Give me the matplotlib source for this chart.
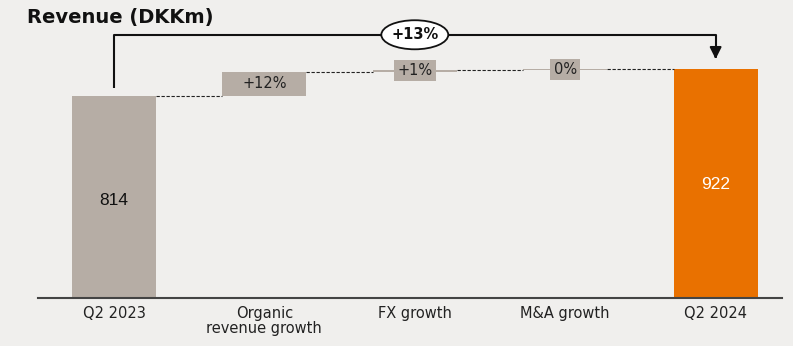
import numpy as np
import matplotlib.pyplot as plt
from matplotlib.patches import Ellipse

# Revenue bridge, DKKm
categories = ['Q2 2023', 'Organic\nrevenue growth', 'FX growth', 'M&A growth', 'Q2 2024']
start_value = 814
steps = [98, 7, 3]          # organic, FX, M&A contributions
end_value = start_value + sum(steps)

bg = '#f0efed'
grey = '#b6ada5'
orange = '#e97100'

fig = plt.figure(figsize=(7.93, 3.46), dpi=100, facecolor=bg)
ax = fig.add_axes([0.0479, 0.1387, 0.938, 0.8613], facecolor=bg)
ax.set_xlim(-0.505, 4.44)
ax.set_ylim(0, 1200)

w = 0.558
x = np.arange(len(categories))

# totals
ax.bar(x[0], start_value, w, color=grey)
ax.bar(x[4], end_value, w, color=orange)
ax.text(x[0], start_value / 2 - 15, str(start_value), ha='center', va='center', fontsize=12.5,
        family='Liberation Sans', color='#111')
ax.text(x[4], end_value / 2 - 5, str(end_value), ha='center', va='center', fontsize=12.5,
        family='Liberation Sans', color='white')

# floating steps
level = start_value
for i, s in enumerate(steps):
    xi = x[i + 1]
    ax.bar(xi, s, w, bottom=level, color=grey)
    # dashed connector from previous bar
    ax.plot([xi - 1 + w / 2, xi - w / 2], [level, level], color='#222', lw=0.8, ls=(0, (3, 1.5)))
    pct = '{:+.0f}%'.format(100 * s / start_value)
    if pct == '+0%':
        pct = '0%'
    if s > 30:
        ax.text(xi, level + s / 2, pct, ha='center', va='center', fontsize=10.5, color='#222')
    else:
        ax.text(xi, level + s / 2, pct, ha='center', va='center', fontsize=10.5, color='#222',
                bbox=dict(boxstyle='square,pad=0.22', fc=grey, ec='none'))
    level += s
ax.plot([x[3] + w / 2, x[4] - w / 2], [level, level], color='#222', lw=0.8, ls=(0, (3, 1.5)))

# overall growth bracket
top = 1060
ax.plot([x[0], x[0], x[4], x[4]], [846, top, top, 985], color='#111', lw=1.5, solid_capstyle='butt')
ax.annotate('', xy=(x[4], 951), xytext=(x[4], 990),
            arrowprops=dict(arrowstyle='-|>,head_width=0.35,head_length=0.7', color='#111', lw=1.5))
ax.add_patch(Ellipse((x[2], top), 0.445, 117, fc='white', ec='#111', lw=1.3, zorder=3))
total_pct = '{:+.0f}%'.format(100 * (end_value - start_value) / start_value)
ax.text(x[2], top, total_pct, ha='center', va='center', fontsize=10.5, fontweight='bold', color='#111', zorder=4)

ax.set_xticks(x)
ax.set_xticklabels(categories, fontsize=10.5, color='#222', linespacing=1.0)
ax.tick_params(axis='x', length=0, pad=6)
ax.set_yticks([])
for side in ['left', 'right', 'top']:
    ax.spines[side].set_visible(False)
ax.spines['bottom'].set_color('#444')
ax.spines['bottom'].set_linewidth(1.5)

fig.text(27 / 793, 1 - 18 / 346, 'Revenue (DKKm)', fontsize=14, fontweight='bold', color='#111',
         ha='left', va='center')

fig.savefig('out.png', dpi=100, facecolor=bg)
